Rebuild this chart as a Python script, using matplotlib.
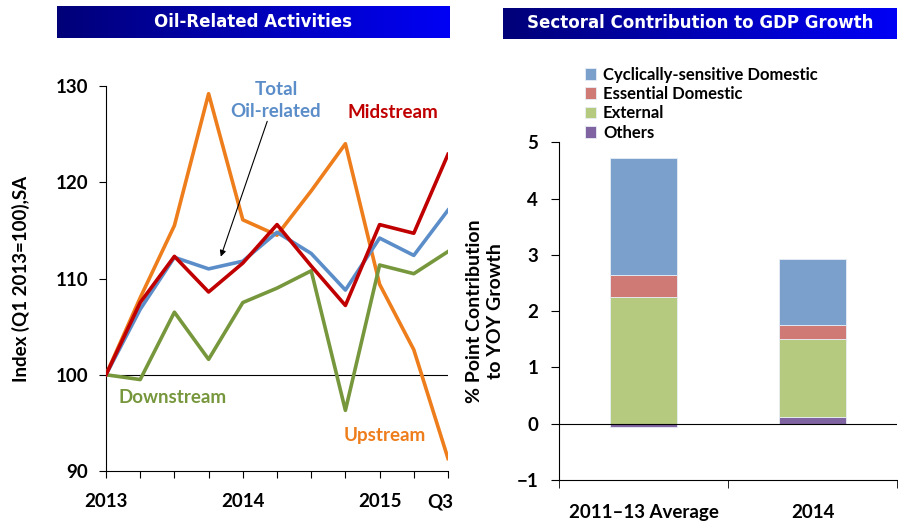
import matplotlib.pyplot as plt
import matplotlib.transforms as mtrans
import numpy as np
from matplotlib.colors import LinearSegmentedColormap

plt.rcParams['font.family'] = ['Lato', 'DejaVu Sans']
plt.rcParams['font.weight'] = 'bold'
plt.rcParams['axes.labelweight'] = 'bold'

# left panel: oil-related activity indices, Q1 2013 .. Q3 2015
quarters = ['Q1 2013', 'Q2 2013', 'Q3 2013', 'Q4 2013', 'Q1 2014', 'Q2 2014',
            'Q3 2014', 'Q4 2014', 'Q1 2015', 'Q2 2015', 'Q3 2015']
quarter_labels = ['2013', '', '', '', '2014', '', '', '', '2015', '', 'Q3']
total = [100, 106.8, 112.2, 111.0, 111.8, 114.8, 112.6, 108.8, 114.2, 112.4, 117.1]
midstream = [100, 107.5, 112.3, 108.6, 111.6, 115.6, 111.3, 107.2, 115.6, 114.7, 122.9]
upstream = [100, 108.0, 115.5, 129.2, 116.1, 114.5, 119.1, 124.0, 109.4, 102.6, 91.3]
downstream = [100, 99.5, 106.5, 101.6, 107.5, 109.0, 110.8, 96.3, 111.4, 110.5, 112.8]

# right panel: sectoral contribution to GDP growth
periods = ['2011\u201313 Average', '2014']
sectors = ['Cyclically-sensitive Domestic', 'Essential Domestic', 'External', 'Others']
cyclical = [2.08, 1.16]
essential = [0.39, 0.26]
external = [2.25, 1.38]
others = [-0.05, 0.12]

fig = plt.figure(figsize=(8.98, 5.21), dpi=100)


def banner(rect, text):
    bax = fig.add_axes(rect)
    grad = np.linspace(0, 1, 256).reshape(1, -1)
    cmap = LinearSegmentedColormap.from_list('ban', ['#000078', '#0000F5'])
    bax.imshow(grad, aspect='auto', cmap=cmap, extent=(0, 1, 0, 1))
    bax.text(0.5, 0.5, text, color='white', ha='center', va='center',
             fontsize=12, fontweight='bold', family='DejaVu Sans',
             transform=bax.transAxes)
    bax.set_axis_off()


def bold_ticks(a):
    for lab in a.get_xticklabels() + a.get_yticklabels():
        lab.set_fontweight('bold')


banner([57 / 898, 1 - 38 / 521, 393 / 898, 32 / 521], 'Oil-Related Activities')
banner([503 / 898, 1 - 39 / 521, 394 / 898, 31 / 521], 'Sectoral Contribution to GDP Growth')

# ---- left chart
ax = fig.add_axes([106 / 898, 1 - 471 / 521, 342 / 898, 385 / 521])
x = np.arange(len(quarters))
ax.axhline(100, color='black', lw=0.8, zorder=1)
ax.plot(x, upstream, color='#EE7D1C', lw=2.6, zorder=3)
ax.plot(x, downstream, color='#77973D', lw=2.6, zorder=3)
ax.plot(x, total, color='#5B8DC9', lw=2.6, zorder=4)
ax.plot(x, midstream, color='#C00000', lw=2.6, zorder=5)
ax.set_xlim(0, len(quarters) - 1)
ax.set_ylim(90, 130)
ax.set_yticks([90, 100, 110, 120, 130])
ax.set_xticks(x)
ax.set_xticklabels(quarter_labels)
ax.tick_params(axis='y', direction='out', length=5, pad=8, labelsize=13.5)
ax.tick_params(axis='x', direction='out', length=5, pad=11, labelsize=13.5)
bold_ticks(ax)
# last label "Q3" sits a little left of its tick
q3 = ax.get_xticklabels()[-1]
q3.set_transform(q3.get_transform() + mtrans.ScaledTranslation(-8 / 100, 0, fig.dpi_scale_trans))
for s in ['top', 'right']:
    ax.spines[s].set_visible(False)
ax.spines['left'].set_linewidth(0.8)
ax.spines['bottom'].set_linewidth(0.8)
ax.set_ylabel('Index (Q1 2013=100),SA', fontsize=13.5, fontweight='bold', labelpad=18)

ax.text(4.97, 128.5, 'Total\nOil-related', color='#5B8DC9', ha='center', va='center',
        fontsize=13.5, fontweight='bold', linespacing=1.3)
ax.text(8.39, 127.2, 'Midstream', color='#C00000', ha='center', va='center',
        fontsize=13.5, fontweight='bold')
ax.text(1.96, 97.6, 'Downstream', color='#77973D', ha='center', va='center',
        fontsize=13.5, fontweight='bold')
ax.text(8.16, 93.7, 'Upstream', color='#EE7D1C', ha='center', va='center',
        fontsize=13.5, fontweight='bold')
ax.annotate('', xy=(3.33, 112.0), xytext=(4.74, 126.6),
            arrowprops=dict(arrowstyle='-|>', color='black', lw=0.8, mutation_scale=9))

# ---- right chart
ax2 = fig.add_axes([559 / 898, 1 - 480 / 521, 338 / 898, 337.7 / 521])
xb = np.arange(len(periods))
series = [others, external, essential, cyclical]
colors = ['#8064A2', '#B5CA7F', '#D07A75', '#7BA0CC']
pos_bottom = np.zeros(len(periods))
neg_bottom = np.zeros(len(periods))
handles = {}
for name, vals, c in zip(['Others', 'External', 'Essential Domestic',
                          'Cyclically-sensitive Domestic'], series, colors):
    vals = np.array(vals)
    bottom = np.where(vals >= 0, pos_bottom, neg_bottom)
    bars = ax2.bar(xb, vals, bottom=bottom, width=0.4, color=c,
                   edgecolor='#E8EEF6', linewidth=0.6, zorder=2)
    handles[name] = bars
    pos_bottom = pos_bottom + np.where(vals >= 0, vals, 0)
    neg_bottom = neg_bottom + np.where(vals < 0, vals, 0)

ax2.axhline(0, color='black', lw=0.8, zorder=3)
ax2.set_xlim(-0.5, 1.5)
ax2.set_ylim(-1, 5)
ax2.set_yticks(range(-1, 6))
ax2.set_xticks(xb)
ax2.set_xticklabels(periods)
ax2.set_xticks([-0.5, 0.5, 1.5], minor=True)
ax2.tick_params(axis='x', which='major', length=0, pad=17, labelsize=13.5)
ax2.tick_params(axis='x', which='minor', direction='out', length=6)
ax2.tick_params(axis='y', direction='out', length=6, pad=9, labelsize=13.5)
bold_ticks(ax2)
for s in ['top', 'right']:
    ax2.spines[s].set_visible(False)
ax2.spines['left'].set_linewidth(0.8)
ax2.spines['bottom'].set_linewidth(0.8)
ax2.set_ylabel('% Point Contribution\nto YOY Growth', fontsize=14, fontweight='bold',
               labelpad=9, linespacing=1.3)

leg = fig.legend([handles[n] for n in sectors], sectors, loc='upper left',
                 bbox_to_anchor=(578 / 898, 1 - 60 / 521), frameon=False,
                 prop={'size': 12, 'weight': 'bold'}, handlelength=0.7, handleheight=0.7,
                 handletextpad=0.4, labelspacing=0.2, borderaxespad=0)

fig.savefig('out.png', dpi=100)
